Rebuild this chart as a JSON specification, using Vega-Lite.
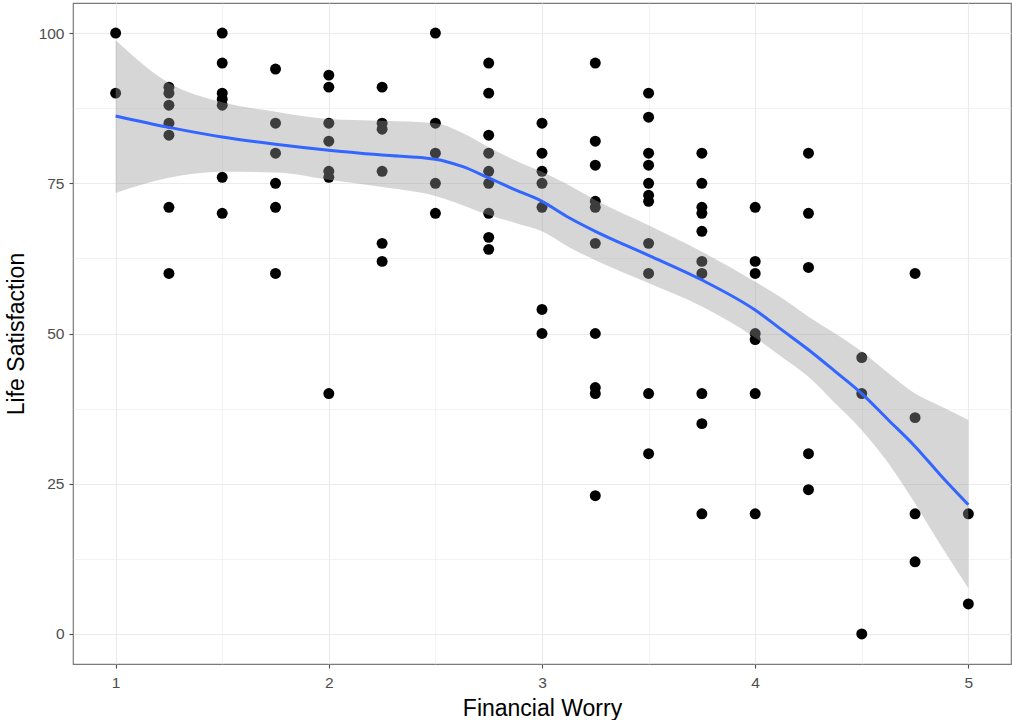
{
  "$schema": "https://vega.github.io/schema/vega-lite/v6.json",
  "autosize": {"type": "none"},
  "padding": {"left": 73, "top": 3, "right": 1, "bottom": 56},
  "width": 938,
  "height": 661,
  "background": "white",
  "config": {
    "view": {"stroke": "#7a7a7a", "strokeWidth": 1.2},
    "font": "Liberation Sans",
    "axis": {
      "domain": false,
      "labelFont": "Liberation Sans",
      "labelFontSize": 15.5,
      "labelColor": "#4d4d4d",
      "tickColor": "#4d4d4d",
      "tickSize": 4,
      "tickWidth": 1.1,
      "gridColor": "#ebebeb",
      "titleFont": "Liberation Sans",
      "titleFontSize": 23,
      "titleFontWeight": "normal",
      "titleColor": "#000000"
    }
  },
  "datasets": {
    "pts": [
      {"worry": 1, "life": 100}, {"worry": 1, "life": 90},
      {"worry": 1.25, "life": 91}, {"worry": 1.25, "life": 90}, {"worry": 1.25, "life": 88}, {"worry": 1.25, "life": 85}, {"worry": 1.25, "life": 83}, {"worry": 1.25, "life": 71}, {"worry": 1.25, "life": 60},
      {"worry": 1.5, "life": 100}, {"worry": 1.5, "life": 95}, {"worry": 1.5, "life": 90}, {"worry": 1.5, "life": 89}, {"worry": 1.5, "life": 88}, {"worry": 1.5, "life": 76}, {"worry": 1.5, "life": 70},
      {"worry": 1.75, "life": 94}, {"worry": 1.75, "life": 85}, {"worry": 1.75, "life": 80}, {"worry": 1.75, "life": 75}, {"worry": 1.75, "life": 71}, {"worry": 1.75, "life": 60},
      {"worry": 2, "life": 93}, {"worry": 2, "life": 91}, {"worry": 2, "life": 85}, {"worry": 2, "life": 82}, {"worry": 2, "life": 77}, {"worry": 2, "life": 76}, {"worry": 2, "life": 40},
      {"worry": 2.25, "life": 91}, {"worry": 2.25, "life": 85}, {"worry": 2.25, "life": 84}, {"worry": 2.25, "life": 77}, {"worry": 2.25, "life": 65}, {"worry": 2.25, "life": 62},
      {"worry": 2.5, "life": 100}, {"worry": 2.5, "life": 85}, {"worry": 2.5, "life": 80}, {"worry": 2.5, "life": 75}, {"worry": 2.5, "life": 70},
      {"worry": 2.75, "life": 95}, {"worry": 2.75, "life": 90}, {"worry": 2.75, "life": 83}, {"worry": 2.75, "life": 80}, {"worry": 2.75, "life": 77}, {"worry": 2.75, "life": 75}, {"worry": 2.75, "life": 70}, {"worry": 2.75, "life": 66}, {"worry": 2.75, "life": 64},
      {"worry": 3, "life": 85}, {"worry": 3, "life": 80}, {"worry": 3, "life": 77}, {"worry": 3, "life": 75}, {"worry": 3, "life": 71}, {"worry": 3, "life": 54}, {"worry": 3, "life": 50},
      {"worry": 3.25, "life": 95}, {"worry": 3.25, "life": 82}, {"worry": 3.25, "life": 78}, {"worry": 3.25, "life": 72}, {"worry": 3.25, "life": 71}, {"worry": 3.25, "life": 65}, {"worry": 3.25, "life": 50}, {"worry": 3.25, "life": 41}, {"worry": 3.25, "life": 40}, {"worry": 3.25, "life": 23},
      {"worry": 3.5, "life": 90}, {"worry": 3.5, "life": 86}, {"worry": 3.5, "life": 80}, {"worry": 3.5, "life": 78}, {"worry": 3.5, "life": 75}, {"worry": 3.5, "life": 73}, {"worry": 3.5, "life": 72}, {"worry": 3.5, "life": 65}, {"worry": 3.5, "life": 60}, {"worry": 3.5, "life": 40}, {"worry": 3.5, "life": 30},
      {"worry": 3.75, "life": 80}, {"worry": 3.75, "life": 75}, {"worry": 3.75, "life": 71}, {"worry": 3.75, "life": 70}, {"worry": 3.75, "life": 67}, {"worry": 3.75, "life": 62}, {"worry": 3.75, "life": 60}, {"worry": 3.75, "life": 40}, {"worry": 3.75, "life": 35}, {"worry": 3.75, "life": 20},
      {"worry": 4, "life": 71}, {"worry": 4, "life": 62}, {"worry": 4, "life": 60}, {"worry": 4, "life": 50}, {"worry": 4, "life": 49}, {"worry": 4, "life": 40}, {"worry": 4, "life": 20},
      {"worry": 4.25, "life": 80}, {"worry": 4.25, "life": 70}, {"worry": 4.25, "life": 61}, {"worry": 4.25, "life": 30}, {"worry": 4.25, "life": 24},
      {"worry": 4.5, "life": 46}, {"worry": 4.5, "life": 40}, {"worry": 4.5, "life": 0},
      {"worry": 4.75, "life": 60}, {"worry": 4.75, "life": 36}, {"worry": 4.75, "life": 20}, {"worry": 4.75, "life": 12},
      {"worry": 5, "life": 20}, {"worry": 5, "life": 5}
    ],
    "smooth": [
      {"worry": 1, "fit": 86.2, "lower": 73.4, "upper": 98.8},
      {"worry": 1.25, "fit": 84.3, "lower": 75.9, "upper": 91.7},
      {"worry": 1.5, "fit": 82.7, "lower": 76.9, "upper": 88.5},
      {"worry": 1.75, "fit": 81.5, "lower": 76.8, "upper": 86.9},
      {"worry": 2, "fit": 80.5, "lower": 75.6, "upper": 85.7},
      {"worry": 2.25, "fit": 79.7, "lower": 74.4, "upper": 85.4},
      {"worry": 2.5, "fit": 79.0, "lower": 72.9, "upper": 85.0},
      {"worry": 2.625, "fit": 77.8, "lower": 71.4, "upper": 83.4},
      {"worry": 2.75, "fit": 75.9, "lower": 69.7, "upper": 81.0},
      {"worry": 2.875, "fit": 73.9, "lower": 68.4, "upper": 78.8},
      {"worry": 3, "fit": 72.0, "lower": 67.0, "upper": 76.9},
      {"worry": 3.125, "fit": 69.3, "lower": 64.4, "upper": 74.7},
      {"worry": 3.25, "fit": 67.0, "lower": 62.2, "upper": 72.2},
      {"worry": 3.5, "fit": 63.0, "lower": 58.4, "upper": 68.0},
      {"worry": 3.75, "fit": 58.9, "lower": 54.5, "upper": 63.6},
      {"worry": 4, "fit": 53.9, "lower": 49.3, "upper": 58.6},
      {"worry": 4.125, "fit": 50.6, "lower": 46.1, "upper": 55.9},
      {"worry": 4.25, "fit": 47.3, "lower": 42.8, "upper": 52.8},
      {"worry": 4.375, "fit": 43.7, "lower": 38.4, "upper": 50.0},
      {"worry": 4.5, "fit": 40.0, "lower": 33.9, "upper": 47.0},
      {"worry": 4.625, "fit": 35.6, "lower": 28.4, "upper": 43.4},
      {"worry": 4.75, "fit": 31.2, "lower": 21.7, "upper": 40.0},
      {"worry": 4.875, "fit": 26.2, "lower": 14.5, "upper": 37.8},
      {"worry": 5, "fit": 21.5, "lower": 7.6, "upper": 35.6}
    ]
  },
  "layer": [
    {
      "data": {"name": "pts"},
      "mark": {"type": "circle", "size": 120, "color": "#000000", "opacity": 1},
      "encoding": {
        "x": {
          "field": "worry", "type": "quantitative",
          "scale": {"domain": [0.8, 5.2], "nice": false, "zero": false},
          "title": "Financial Worry",
          "axis": {
            "values": [1, 1.5, 2, 2.5, 3, 3.5, 4, 4.5, 5],
            "labelExpr": "datum.value % 1 === 0 ? format(datum.value, 'd') : ''",
            "labelPadding": 7,
            "titlePadding": 7,
            "tickOpacity": {"condition": {"test": "datum.value % 1 !== 0", "value": 0}, "value": 1},
            "gridWidth": {"condition": {"test": "datum.value % 1 !== 0", "value": 0.6}, "value": 1.2}
          }
        },
        "y": {
          "field": "life", "type": "quantitative",
          "scale": {"domain": [-5, 105], "nice": false, "zero": false},
          "title": "Life Satisfaction",
          "axis": {
            "values": [0, 12.5, 25, 37.5, 50, 62.5, 75, 87.5, 100],
            "labelExpr": "datum.value % 25 === 0 ? format(datum.value, 'd') : ''",
            "labelPadding": 5,
            "titlePadding": 10,
            "tickOpacity": {"condition": {"test": "datum.value % 25 !== 0", "value": 0}, "value": 1},
            "gridWidth": {"condition": {"test": "datum.value % 25 !== 0", "value": 0.6}, "value": 1.2}
          }
        }
      }
    },
    {
      "data": {"name": "smooth"},
      "mark": {"type": "area", "color": "#999999", "opacity": 0.4, "interpolate": "monotone"},
      "encoding": {
        "x": {"field": "worry", "type": "quantitative"},
        "y": {"field": "lower", "type": "quantitative"},
        "y2": {"field": "upper"}
      }
    },
    {
      "data": {"name": "smooth"},
      "mark": {"type": "line", "color": "#3366FF", "strokeWidth": 3, "interpolate": "monotone"},
      "encoding": {
        "x": {"field": "worry", "type": "quantitative"},
        "y": {"field": "fit", "type": "quantitative"}
      }
    }
  ]
}
